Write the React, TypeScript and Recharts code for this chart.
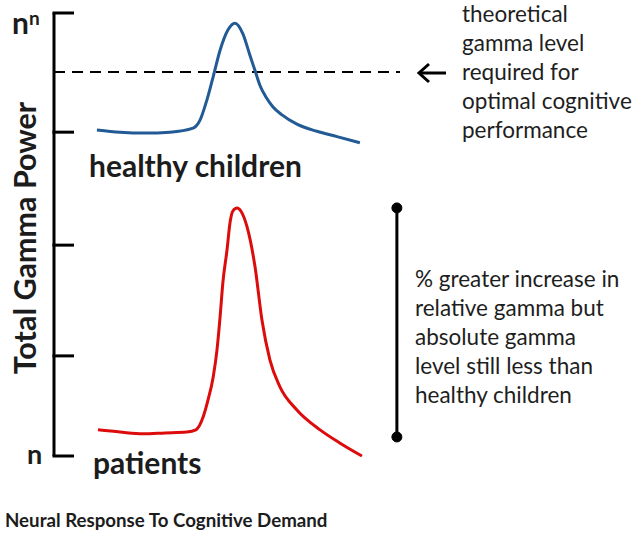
import React from "react";
import { ComposedChart, Line, XAxis, YAxis, ReferenceLine, ReferenceDot } from "recharts";

// Healthy children (blue) curve
const healthyX = [12.4, 19.1, 26.3, 33.5, 40.2, 42.2, 44.2, 46.0, 48.0, 50.3, 52.3, 54.6, 56.6, 58.1, 59.5, 61.3, 63.3, 65.9, 70.2, 76.0, 81.8, 88.4];
const healthyY = [73.6, 73.1, 72.9, 73.1, 74.0, 75.8, 80.4, 85.6, 91.6, 96.2, 97.7, 95.3, 90.5, 87.0, 83.7, 81.0, 78.8, 77.0, 74.9, 73.3, 72.1, 70.7];

// Patients (red) curve
const patientX = [12.7, 19.1, 25.7, 32.1, 38.4, 41.0, 43.1, 44.5, 46.0, 47.1, 48.0, 48.8, 50.0, 50.9, 51.7, 52.9, 54.0, 55.8, 58.1, 60.1, 62.4, 65.3, 70.2, 76.9, 82.7, 89.0];
const patientY = [5.9, 5.4, 5.0, 5.2, 5.4, 5.9, 8.8, 12.6, 17.8, 23.9, 31.4, 39.1, 46.5, 52.8, 55.3, 56.0, 55.3, 51.7, 42.7, 30.7, 21.7, 15.6, 10.4, 5.9, 2.9, 0];

// Axis ticks
const yTicks = [0, 22.6, 47.6, 73.1, 100];
const thresholdLevel = 86.7;
const barX = 99.1;
const barTop = 56.0;
const barBottom = 4.3;

const healthyData = healthyX.map((x, i) => ({ x, y: healthyY[i] }));
const patientData = patientX.map((x, i) => ({ x, y: patientY[i] }));

const FONT = "Lato, 'Open Sans', sans-serif";
const INK = "#1c1c1c";

const YTick = (props: any) => {
  const { x, y, payload } = props;
  const v = payload.value;
  return (
    <g>
      <line x1={x - 1.5} x2={x + 20} y1={y} y2={y} stroke="#000" strokeWidth={3} />
      {v === 100 && (
        <text x={12} y={34} fontFamily={FONT} fontWeight={700} fontSize={30} fill={INK}>
          n<tspan fontSize={19} dy={-9}>n</tspan>
        </text>
      )}
      {v === 0 && (
        <text x={27} y={464} fontFamily={FONT} fontWeight={700} fontSize={27} fill={INK}>
          n
        </text>
      )}
    </g>
  );
};

export default function App() {
  return (
    <div style={{ position: "absolute", left: 0, top: 0, width: 640, height: 535, background: "#fff" }}>
      <ComposedChart width={640} height={535} margin={{ top: 13, right: 240, bottom: 79, left: 0 }}>
        <XAxis type="number" dataKey="x" domain={[0, 100]} hide />
        <YAxis
          type="number"
          domain={[0, 100]}
          ticks={yTicks}
          width={54}
          axisLine={{ stroke: "#000", strokeWidth: 3 }}
          tickLine={false}
          tickSize={0}
          tickMargin={0}
          tick={<YTick />}
          interval={0}
        />
        <ReferenceLine y={thresholdLevel} stroke="#000" strokeWidth={2} strokeDasharray="11 7" />
        <ReferenceLine
          segment={[{ x: barX, y: barTop }, { x: barX, y: barBottom }]}
          stroke="#000"
          strokeWidth={3}
          ifOverflow="visible"
        />
        <ReferenceDot x={barX} y={barTop} r={5} fill="#000" stroke="#000" ifOverflow="visible" />
        <ReferenceDot x={barX} y={barBottom} r={5} fill="#000" stroke="#000" ifOverflow="visible" />
        <Line data={healthyData} dataKey="y" type="monotone" stroke="#215a94" strokeWidth={3} dot={false} isAnimationActive={false} />
        <Line data={patientData} dataKey="y" type="monotone" stroke="#dc0c0c" strokeWidth={3} dot={false} isAnimationActive={false} />
      </ComposedChart>
      <svg width={640} height={535} style={{ position: "absolute", left: 0, top: 0, pointerEvents: "none" }}>
        <text
          transform="translate(36,238) rotate(-90)"
          textAnchor="middle"
          fontFamily={FONT}
          fontWeight={700}
          fontSize={30.5}
          fill={INK}
        >
          Total Gamma Power
        </text>
        <text x={89} y={177} fontFamily={FONT} fontWeight={700} fontSize={30} fill={INK}>healthy children</text>
        <text x={93} y={474} fontFamily={FONT} fontWeight={700} fontSize={30} fill={INK}>patients</text>
        <text x={5} y={527} fontFamily={FONT} fontWeight={700} fontSize={18.7} fill={INK}>Neural Response To Cognitive Demand</text>
        <g fontFamily={FONT} fontSize={22.5} fill="#1e1e1e">
          <text x={462} y={22}>theoretical</text>
          <text x={462} y={51}>gamma level</text>
          <text x={462} y={80}>required for</text>
          <text x={462} y={109}>optimal cognitive</text>
          <text x={462} y={138}>performance</text>
        </g>
        <g stroke="#000" strokeWidth={3} fill="none">
          <line x1={419} y1={73} x2={446} y2={73} />
          <polyline points="429,64 419,73 429,82" />
        </g>
        <g fontFamily={FONT} fontSize={22.5} fill="#1e1e1e">
          <text x={415} y={287}>% greater increase in</text>
          <text x={415} y={316}>relative gamma but</text>
          <text x={415} y={345}>absolute gamma</text>
          <text x={415} y={374}>level still less than</text>
          <text x={415} y={403}>healthy children</text>
        </g>
      </svg>
    </div>
  );
}
